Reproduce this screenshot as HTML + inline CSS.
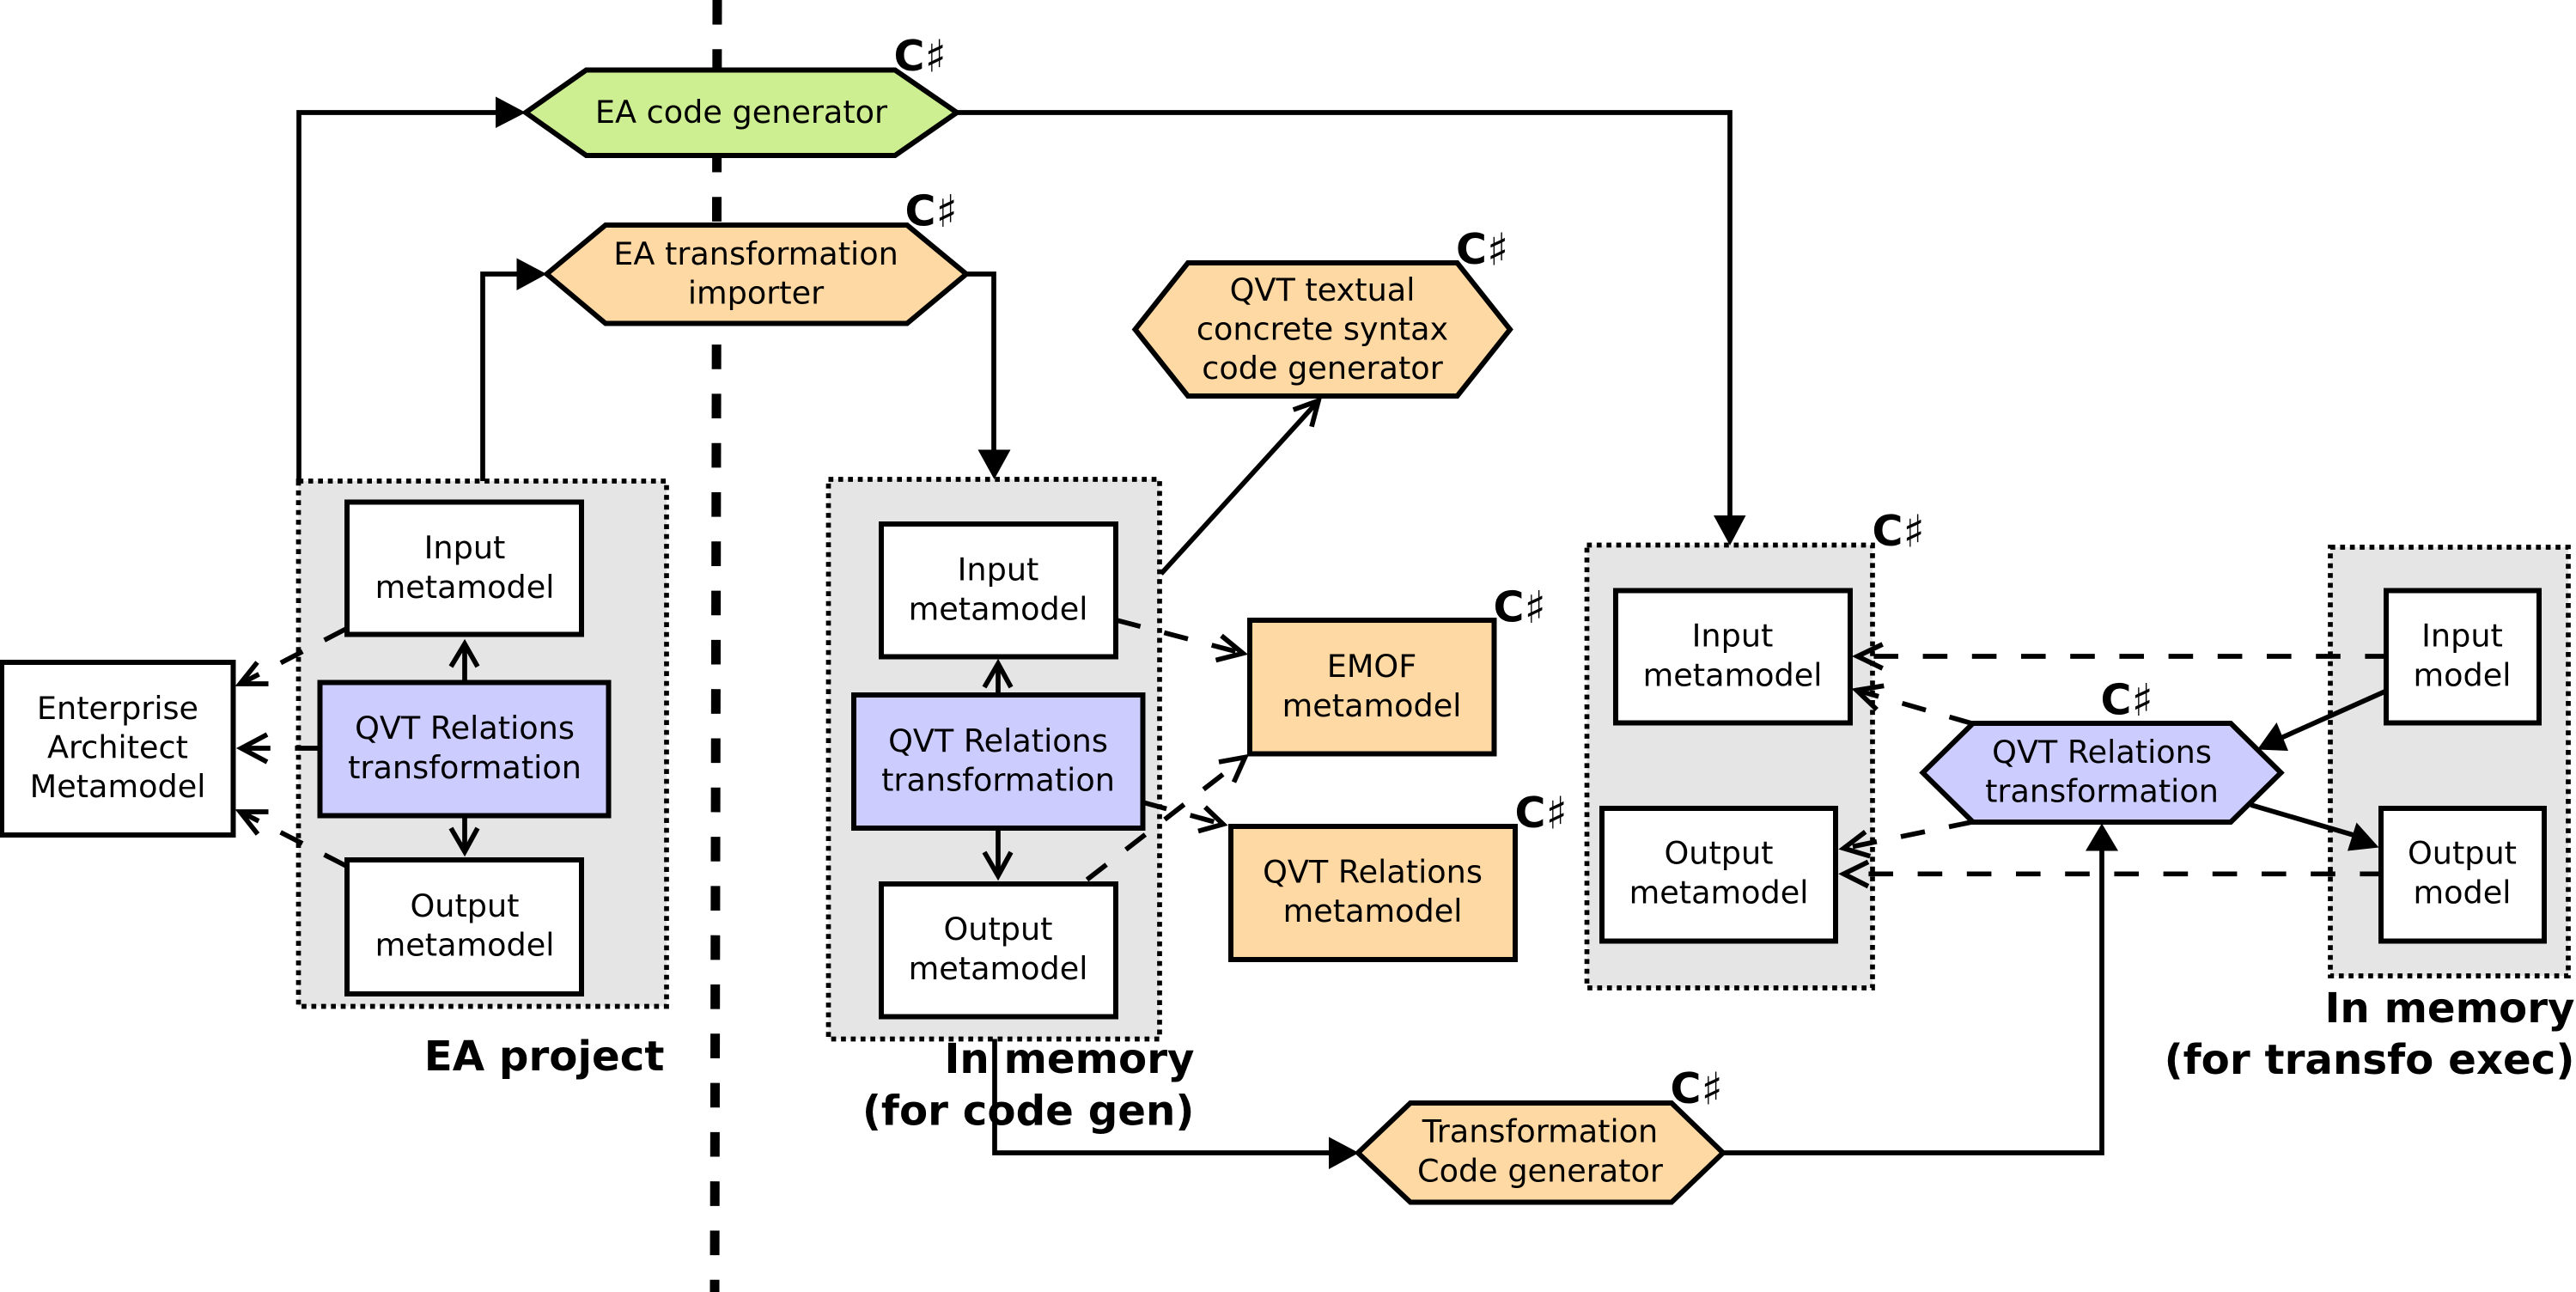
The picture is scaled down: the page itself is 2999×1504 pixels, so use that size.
<!DOCTYPE html>
<html>
<head>
<meta charset="utf-8">
<style>
html,body{margin:0;padding:0;background:#fff}
svg{display:block}
text{font-family:"DejaVu Sans",sans-serif;fill:#000}
.t{font-size:36.6px;text-anchor:middle}
.b{font-size:48.3px;font-weight:bold;text-anchor:end}
.c{font-size:49px;font-weight:bold}
.c tspan{font-weight:normal;font-size:52px}
.box{stroke:#000;stroke-width:6;stroke-linejoin:miter}
.grp{fill:#e5e5e5;stroke:#000;stroke-width:5.7;stroke-dasharray:5.7 5.7}
.l{fill:none;stroke:#000;stroke-width:5.7}
.d{fill:none;stroke:#000;stroke-width:5.7;stroke-dasharray:28.6 28.6}
</style>
</head>
<body>
<svg xmlns="http://www.w3.org/2000/svg" width="2999" height="1504" viewBox="0 0 2999 1504">
<rect width="2999" height="1504" fill="#fff"/>
<!-- centre divider -->
<path d="M835 0L832 1504" fill="none" stroke="#000" stroke-width="11" stroke-dasharray="28.65 28.65"/>

<!-- solid routes -->
<path class="l" d="M348 560V131H590"/>
<path class="l" d="M562 560V319H610"/>
<path class="l" d="M1123 319H1157V530"/>
<path class="l" d="M1112 131H2014V605"/>
<path class="l" d="M1158 1209V1342H1555"/>
<path class="l" d="M2004 1342H2447V980"/>

<!-- groups -->
<rect class="grp" x="347.5" y="560" width="428.5" height="611.5"/>
<rect class="grp" x="964.5" y="558" width="385.5" height="651.5"/>
<rect class="grp" x="1847.5" y="634.5" width="332.5" height="515.5"/>
<rect class="grp" x="2713" y="637" width="277" height="499"/>

<!-- filled arrowheads -->
<path d="M577 112.5L612 131L577 149Z"/>
<path d="M601.5 300.5L636.5 319L601.5 338Z"/>
<path d="M1138.5 523.5H1176.5L1157.5 558Z"/>
<path d="M1995 600H2032.5L2014 635Z"/>
<path d="M1547 1323.5L1582 1342L1547 1361Z"/>
<path d="M2428 990.5H2466L2447 958.5Z"/>

<!-- hexagons -->
<path class="box" fill="#cdef91" d="M612 131L682.5 81.5H1042L1114 131L1042 181H682.5Z"/>
<path class="box" fill="#ffd9a3" d="M636.5 319L705 262H1056L1125 319L1056 376.5H705Z"/>
<path class="box" fill="#ffd9a3" d="M1321.5 383.5L1383 306H1696.5L1758 383.5L1696.5 461H1383Z"/>
<path class="box" fill="#ffd9a3" d="M1581 1342L1642 1284H1946L2006 1342L1946 1399.5H1642Z"/>
<path class="box" fill="#ccccff" d="M2238.5 899.5L2297 842H2597L2655.5 899.5L2597 957H2297Z"/>

<!-- boxes -->
<rect class="box" fill="#fff" x="2" y="771" width="269.5" height="201"/>
<rect class="box" fill="#fff" x="404" y="584.5" width="273" height="154"/>
<rect class="box" fill="#ccccff" x="372.5" y="794.5" width="336" height="155"/>
<rect class="box" fill="#fff" x="404" y="1001" width="273" height="156"/>

<rect class="box" fill="#fff" x="1026" y="610" width="273" height="154.5"/>
<rect class="box" fill="#ccccff" x="994" y="809" width="336.5" height="155"/>
<rect class="box" fill="#fff" x="1026" y="1029" width="273" height="154.5"/>

<rect class="box" fill="#ffd9a3" x="1455" y="722" width="284.5" height="155.5"/>
<rect class="box" fill="#ffd9a3" x="1433" y="962" width="331" height="155"/>

<rect class="box" fill="#fff" x="1881" y="687.5" width="273" height="154"/>
<rect class="box" fill="#fff" x="1865" y="941" width="272" height="154.5"/>
<rect class="box" fill="#fff" x="2778" y="687.5" width="178" height="154"/>
<rect class="box" fill="#fff" x="2772" y="941" width="190" height="154.5"/>

<!-- open arrows left group -->
<path class="l" d="M541 794V750"/><path class="l" d="M525 776L541 749.5L556 776"/>
<path class="l" d="M541 950V990"/><path class="l" d="M525 964L541 991.5L556 964"/>
<path class="d" d="M372 871H282"/><path class="l" d="M311 855L281 871L311 887"/>
<path class="d" d="M403 732L280 796"/><path class="l" d="M299.5 771L279.5 796L312.5 796"/>
<path class="d" d="M403 1008L280 945"/><path class="l" d="M300 971L279.5 945L312.5 945"/>

<!-- open arrows middle group -->
<path class="l" d="M1162 809V774"/><path class="l" d="M1146 800L1162 772.5L1177 800"/>
<path class="l" d="M1162 964V1018"/><path class="l" d="M1146 992L1162 1019.5L1177 992"/>
<path class="l" d="M1351.7 668L1535 466.5"/><path class="l" d="M1505.7 477L1535 466.5L1527 496.7"/>
<path class="d" d="M1300 722L1447 760.5"/><path class="l" d="M1422 740L1447 760.5L1415.5 768.5"/>
<path class="d" d="M1330.5 934L1424 959.5"/><path class="l" d="M1403 939.5L1424 959.5L1395 967.5"/>
<path class="d" d="M1265.5 1024L1449.5 881.5"/><path class="l" d="M1419 887L1449.5 881.5L1436.5 910.5"/>

<!-- open arrows right -->
<path class="d" style="stroke-dashoffset:4" d="M2778 764H2163"/><path class="l" d="M2191.7 750L2162.5 764L2191.7 778"/>
<path class="d" d="M2297 842.5L2162 803.5"/><path class="l" d="M2193.3 798.3L2161.5 803.5L2185 826"/>
<path class="d" d="M2297 956.7L2147 987.5"/><path class="l" d="M2171.7 968.3L2146.5 987.5L2177.3 996.7"/>
<path class="d" style="stroke-dashoffset:4" d="M2772 1017.3H2147"/><path class="l" d="M2175 1003.3L2146.5 1017.3L2175 1031.7"/>

<!-- solid diagonal arrows -->
<path class="l" d="M2776.5 805L2640 866"/>
<path d="M2650.5 841L2628 872.5L2664 874Z"/>
<path class="l" d="M2620.5 937L2750 975"/>
<path d="M2743.5 957.5L2769.5 986.5L2733 990.5Z"/>

<!-- node labels -->
<text class="t" x="137" y="837">Enterprise</text>
<text class="t" x="137" y="882.5">Architect</text>
<text class="t" x="137" y="928">Metamodel</text>

<text class="t" x="541" y="650">Input</text><text class="t" x="541" y="696">metamodel</text>
<text class="t" x="541" y="860">QVT Relations</text><text class="t" x="541" y="906">transformation</text>
<text class="t" x="541" y="1067">Output</text><text class="t" x="541" y="1112.5">metamodel</text>

<text class="t" x="1162" y="675.5">Input</text><text class="t" x="1162" y="721.5">metamodel</text>
<text class="t" x="1162" y="875">QVT Relations</text><text class="t" x="1162" y="920.5">transformation</text>
<text class="t" x="1162" y="1094">Output</text><text class="t" x="1162" y="1140">metamodel</text>

<text class="t" x="863" y="143">EA code generator</text>
<text class="t" x="880" y="308">EA transformation</text><text class="t" x="880" y="353.5">importer</text>
<text class="t" x="1539.5" y="350">QVT textual</text><text class="t" x="1539.5" y="395.5">concrete syntax</text><text class="t" x="1539.5" y="441">code generator</text>
<text class="t" x="1597" y="788">EMOF</text><text class="t" x="1597" y="834">metamodel</text>
<text class="t" x="1598" y="1027.5">QVT Relations</text><text class="t" x="1598" y="1073">metamodel</text>
<text class="t" x="1793" y="1329.5">Transformation</text><text class="t" x="1793" y="1375.5">Code generator</text>

<text class="t" x="2017" y="752.5">Input</text><text class="t" x="2017" y="798.5">metamodel</text>
<text class="t" x="2001" y="1005.5">Output</text><text class="t" x="2001" y="1051.5">metamodel</text>
<text class="t" x="2447" y="888">QVT Relations</text><text class="t" x="2447" y="933.5">transformation</text>
<text class="t" x="2866.5" y="752.5">Input</text><text class="t" x="2866.5" y="798.5">model</text>
<text class="t" x="2866.5" y="1005.5">Output</text><text class="t" x="2866.5" y="1051.5">model</text>

<!-- group labels -->
<text class="b" x="773.5" y="1246">EA project</text>
<text class="b" x="1390.5" y="1249">In memory</text>
<text class="b" x="1390.5" y="1309.5">(for code gen)</text>
<text class="b" x="2997.5" y="1190">In memory</text>
<text class="b" x="2997.5" y="1250">(for transfo exec)</text>

<!-- C sharp labels -->
<text class="c" x="1040.5" y="82">C<tspan dy="1.5">♯</tspan></text>
<text class="c" x="1053.5" y="262.5">C<tspan dy="1.5">♯</tspan></text>
<text class="c" x="1695" y="307">C<tspan dy="1.5">♯</tspan></text>
<text class="c" x="1738.5" y="723.5">C<tspan dy="1.5">♯</tspan></text>
<text class="c" x="1763.5" y="963">C<tspan dy="1.5">♯</tspan></text>
<text class="c" x="2179.5" y="635">C<tspan dy="1.5">♯</tspan></text>
<text class="c" x="2445.5" y="831.5">C<tspan dy="1.5">♯</tspan></text>
<text class="c" x="1944.5" y="1284">C<tspan dy="1.5">♯</tspan></text>
</svg>
</body>
</html>
